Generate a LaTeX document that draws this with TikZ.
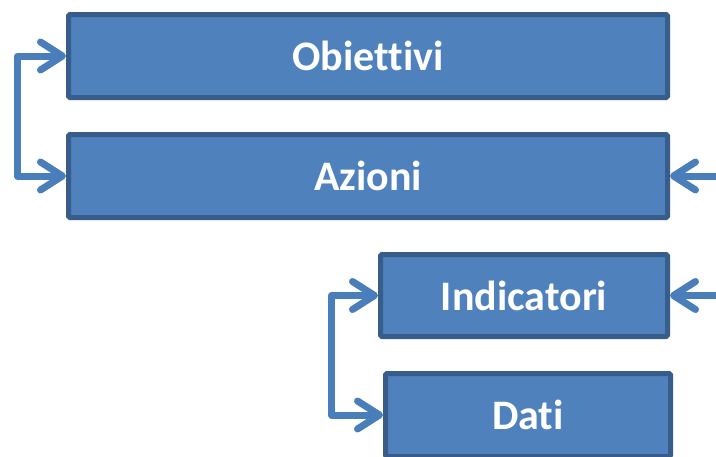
\documentclass[tikz,border=0pt]{standalone}
\usepackage{fontspec}
\setmainfont{Carlito}[Ligatures=NoCommon]
\usetikzlibrary{arrows.meta}
\definecolor{boxfill}{HTML}{4F81BD}
\definecolor{boxline}{HTML}{385D8A}
\definecolor{linkblue}{HTML}{4A7EBB}
\tikzset{
  box/.style={draw=boxline, fill=boxfill, line width=5pt, rounded corners=1.5pt,
    text=white, font=\bfseries\fontsize{42}{46}\selectfont},
  barb/.tip={Straight Barb[length=22pt, width=28pt, round]},
  link/.style={draw=linkblue, line width=7pt, line cap=round, line join=round},
}
\begin{document}
\begin{tikzpicture}[x=1pt, y=-1pt]
\useasboundingbox (0,0) rectangle (716,456);
\node[box, minimum width=599pt, minimum height=83pt] (obiettivi) at (368,56) {Obiettivi};
\node[box, minimum width=599pt, minimum height=83pt] (azioni) at (368,176) {Azioni};
\node[box, minimum width=287pt, minimum height=82pt] (indicatori) at (524,295.5) {Indicatori};
\node[box, minimum width=285pt, minimum height=83pt] (dati) at (528,415) {Dati};
\draw[link, barb-barb] (obiettivi.west) -- ++(-48.5,0) |- (azioni.west);
\draw[link, barb-barb] (indicatori.west) -- ++(-46.5,0) |- (dati.west);
\coordinate (from_azioni) at (735,176);
\draw[link, -barb] (from_azioni) -- (azioni.east);
\coordinate (from_indicatori) at (735,295.5);
\draw[link, -barb] (from_indicatori) -- (indicatori.east);
\end{tikzpicture}
\end{document}
